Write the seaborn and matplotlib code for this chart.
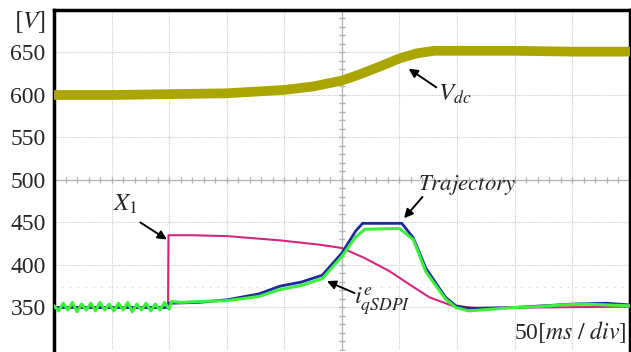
import numpy as np
import pandas as pd
import matplotlib
matplotlib.use("Agg")
import matplotlib.pyplot as plt
import seaborn as sns

# oscilloscope traces (time in ms, value in V)
vdc_t = [0, 50, 100, 150, 200, 225, 250, 265, 282, 300, 315, 330, 360, 400, 450, 500]
vdc_v = [600, 600, 601, 602, 606, 610, 617, 624, 633, 643, 649, 652, 652, 652, 651, 651]

x1_t = [0, 99, 99.4, 120, 150, 196, 230, 250, 270, 291, 310, 326, 346, 370, 420, 500]
x1_v = [350, 350, 435, 435, 434, 429, 424, 420, 408, 393, 376, 362, 352, 349, 350, 351]

traj_t = [0, 99, 100, 126, 150, 178, 196, 215, 233, 250, 262, 268, 302, 312, 323, 340,
          349, 360, 400, 450, 480, 500]
traj_v = [350, 350, 355, 356, 359, 366, 375, 380, 388, 414, 440, 449, 449, 432, 396, 362,
          352, 349, 350, 354, 355, 353]

iq_t = [0, 4, 8, 12, 16, 20, 24, 28, 32, 36, 40, 44, 48, 52, 56, 60, 64, 68, 72, 76, 80,
        84, 88, 92, 96, 100, 102, 110, 126, 150, 178, 196, 215, 233, 250, 262, 270, 300,
        312, 323, 340, 349, 360, 380, 400, 420, 440, 460, 480, 500]
iq_v = [352, 346, 355, 347, 356, 345, 354, 347, 355, 346, 356, 347, 354, 346, 355, 347,
        356, 345, 354, 347, 355, 346, 354, 347, 356, 348, 357, 356, 357, 358, 363, 371,
        376, 384, 410, 433, 442, 443, 430, 392, 360, 350, 346, 348, 350, 351, 353, 354,
        353, 352]

sns.set_style("white")
plt.rcParams['font.family'] = ['Liberation Serif', 'DejaVu Serif']
plt.rcParams['mathtext.fontset'] = 'stix'

fig = plt.figure(figsize=(6.31, 3.52), dpi=100)
ax = fig.add_axes([0.0856, 0.0057, 0.9124, 0.9659])

# scope grid
grid_kw = dict(color='#cccccc', lw=0.8, ls=(0, (1, 1)), zorder=0)
for xv in np.arange(50, 500, 50):
    ax.axvline(xv, **grid_kw)
for yv in np.arange(350, 700, 50):
    ax.axhline(yv, **grid_kw)
ax.axhline(374, color='#d0d0d0', lw=0.8, ls=(0, (1, 6)), zorder=0)
# centre cross with minor ticks
ax.axvline(250, color='#b4b4b4', lw=0.9, zorder=0)
ax.axhline(500, color='#b4b4b4', lw=0.9, zorder=0)
mx = np.arange(0, 501, 10)
ax.plot(mx, np.full(len(mx), 500), ls='none', marker='|', ms=4, color='#b4b4b4', zorder=0)
my = np.arange(300, 701, 10)
ax.plot(np.full(len(my), 250), my, ls='none', marker='_', ms=4, color='#b4b4b4', zorder=0)

sns.lineplot(x=vdc_t, y=vdc_v, ax=ax, color='#aba500', lw=7, zorder=3)
sns.lineplot(x=x1_t, y=x1_v, ax=ax, color='#d4267f', lw=1.5, zorder=3)
sns.lineplot(x=traj_t, y=traj_v, ax=ax, color='#1c2a9c', lw=2.0, zorder=4)
sns.lineplot(x=iq_t, y=iq_v, ax=ax, color='#3cf03c', lw=2.2, zorder=5)

ax.set_xlim(0, 500)
ax.set_ylim(300, 700)
ax.set_xticks([])
ax.set_yticks([350, 400, 450, 500, 550, 600, 650])
ax.tick_params(axis='y', length=0, pad=6, labelsize=17)
for s in ['left', 'top', 'right']:
    ax.spines[s].set_linewidth(2.5)
    ax.spines[s].set_color('black')
ax.spines['bottom'].set_visible(False)

ax.text(-0.015, 686, r'$\left[ V\right]$', transform=ax.get_yaxis_transform(),
        ha='right', va='center', fontsize=18)

arr = dict(arrowstyle='-|>', color='black', lw=1.4, mutation_scale=13, shrinkA=0, shrinkB=0)
# X1
ax.annotate('', xy=(98, 430), xytext=(75, 450), arrowprops=arr)
ax.text(62, 471, r'$X_1$', fontsize=18, ha='center', va='center')
# Trajectory
ax.annotate('', xy=(304, 455), xytext=(320, 480), arrowprops=arr)
ax.text(359, 494, r'$Trajectory$', fontsize=16.5, ha='center', va='center')
# i_qSDPI
ax.annotate('', xy=(237, 381), xytext=(261, 367), arrowprops=arr)
ax.text(285, 357, r'$i^{e}_{qSDPI}$', fontsize=18, ha='center', va='center')
# Vdc
ax.annotate('', xy=(308, 631), xytext=(332, 609), arrowprops=arr)
ax.text(348, 601, r'$V_{dc}$', fontsize=18, ha='center', va='center')

ax.text(497, 321, r'50$\left[ ms\ /\ div\right]$', fontsize=17, ha='right', va='center')

fig.savefig('out.png', dpi=100)
